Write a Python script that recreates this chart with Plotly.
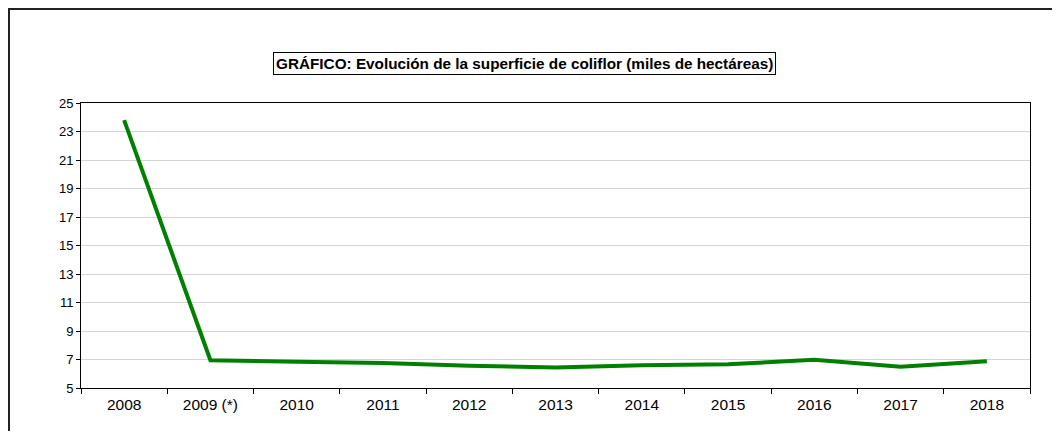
import plotly.graph_objects as go

years = ["2008", "2009 (*)", "2010", "2011", "2012", "2013", "2014", "2015", "2016", "2017", "2018"]
superficie = [23.8, 6.95, 6.84, 6.75, 6.57, 6.43, 6.6, 6.66, 6.98, 6.5, 6.87]
title_text = "GRÁFICO: Evolución de la superficie de coliflor (miles de hectáreas)"

# figure is placed at (8, 8) by the page's body margin
W, H = 1044, 423
L, R, T, B = 73, 22, 95, 43
pw, ph = W - L - R, H - T - B

def px(x):
    return (x - L) / pw

def py(y):
    return (H - B - y) / ph

fig = go.Figure()
fig.add_trace(go.Scatter(
    x=years, y=superficie, mode="lines",
    line=dict(color="#008000", width=4),
    hoverinfo="x+y", showlegend=False,
))

fig.update_layout(
    width=W, height=H,
    margin=dict(l=L, r=R, t=T, b=B, autoexpand=False),
    paper_bgcolor="white", plot_bgcolor="white",
    font=dict(family="Liberation Sans, Arial, sans-serif", color="#000000", size=12),
    showlegend=False,
)

fig.update_xaxes(
    type="category", range=[-0.5, len(years) - 0.5],
    tickson="boundaries", ticks="outside", ticklen=5,
    tickcolor="black", tickwidth=1, automargin=False,
    showline=True, linecolor="black", linewidth=1, mirror=True,
    showgrid=False, tickfont=dict(size=15.5), ticklabelstandoff=2,
)
fig.update_yaxes(
    range=[5, 25], tick0=5, dtick=2, ticks="outside", ticklen=4,
    tickcolor="black", tickwidth=1, automargin=False,
    showline=True, linecolor="black", linewidth=1, mirror=True,
    showgrid=True, gridcolor="#d4d4d4", gridwidth=1,
    zeroline=False, tickfont=dict(size=13),
)

# outer chart border (right and bottom edges fall outside the page)
fig.add_shape(type="rect", xref="paper", yref="paper",
              x0=px(1), x1=px(W + 5), y0=py(H + 5), y1=py(1),
              line=dict(color="#222222", width=2), fillcolor="rgba(0,0,0,0)",
              layer="below")

fig.add_annotation(
    text="<b>" + title_text + "</b>",
    xref="paper", yref="paper", x=px(516), y=py(55),
    xanchor="center", yanchor="middle", showarrow=False,
    font=dict(size=15.3, color="black"),
    bordercolor="black", borderwidth=1, borderpad=2, bgcolor="white",
)

fig.write_html("out.html")
